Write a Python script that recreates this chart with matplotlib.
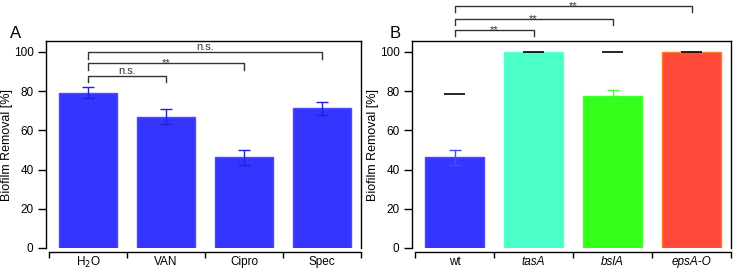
import matplotlib.pyplot as plt

plt.rcParams["font.family"] = ["Liberation Sans", "DejaVu Sans"]
plt.rcParams["font.size"] = 8

# Panel A: antibiotic treatments
labels_a = ["H$_2$O", "VAN", "Cipro", "Spec"]
values_a = [79.2, 67.0, 46.3, 71.3]
errors_a = [2.8, 3.7, 3.8, 3.3]
# (i, j, bracket height, label)
sig_a = [(0, 3, 99.8, "n.s."), (0, 2, 94.2, "**"), (0, 1, 87.8, "n.s.")]

# Panel B: mutants
labels_b = ["wt", "tasA", "bslA", "epsA-O"]
values_b = [46.3, 100.0, 77.7, 100.0]
errors_b = [3.9, 0.0, 3.0, 0.0]
ref_b = [78.3, 100.0, 100.0, 100.0]
sig_b = [(0, 3, 123.3, "**"), (0, 2, 116.8, "**"), (0, 1, 111.2, "**")]

BLUE = "#3535ff"
face_b = [BLUE, "#4affc8", "#33ff1a", "#ff4a3a"]
edge_b = ["#4848ff", "#5cffd0", "#44ff30", "#ff7a20"]


def style_axes(ax, labels, italic=False):
    ax.set_xlim(-0.54, 3.5)
    ax.set_ylim(0, 105.5)
    ax.spines["bottom"].set_position(("outward", 3))
    ax.spines["bottom"].set_bounds(-0.5, 3.5)
    for s in ax.spines.values():
        s.set_linewidth(1.0)
    ax.set_yticks([0, 20, 40, 60, 80, 100])
    ax.tick_params(axis="y", direction="out", length=6, width=1, pad=3,
                   labelsize=8.5)
    ax.set_xticks([-0.5, 0.5, 1.5, 2.5, 3.5])
    ax.set_xticklabels([])
    ax.tick_params(axis="x", direction="out", length=4, width=1)
    for i, lab in enumerate(labels):
        ax.text(i, -8.9, lab, ha="center", va="baseline", fontsize=8.5,
                style="italic" if (italic and i > 0) else "normal",
                clip_on=False)
    ax.set_ylabel("Biofilm Removal [%]", fontsize=9)
    ax.yaxis.set_label_coords(-0.104, 0.5)


def brackets(ax, sigs, drop):
    for i, j, h, txt in sigs:
        ax.plot([i, i, j, j], [h - drop, h, h, h - drop], color="#333333",
                lw=1.0, clip_on=False)
        off = -1.5 if txt == "**" else 0.9
        ax.text((i + j) / 2, h + off, txt, ha="center", va="baseline",
                fontsize=8, color="#333333", clip_on=False)


fig = plt.figure(figsize=(7.38, 2.70), dpi=100)
ax_a = fig.add_axes([0.0623, 0.0815, 0.4267, 0.7665])
ax_b = fig.add_axes([0.5583, 0.0815, 0.4322, 0.7665])

# A
x = range(len(labels_a))
ax_a.bar(x, values_a, width=0.74, color=BLUE, edgecolor="#4a4aff", linewidth=1)
ax_a.errorbar(x, values_a, yerr=errors_a, fmt="none", ecolor="#2020e0",
              elinewidth=1, capsize=4, capthick=1)
style_axes(ax_a, labels_a)
brackets(ax_a, sig_a, 3.4)
fig.text(0.014, 0.86, "A", fontsize=12)

# B
x = range(len(labels_b))
ax_b.bar(x, values_b, width=0.74, color=face_b, edgecolor=edge_b, linewidth=1)
for i in x:
    if errors_b[i] > 0:
        ax_b.errorbar(i, values_b[i], yerr=errors_b[i], fmt="none",
                      ecolor=edge_b[i], elinewidth=1, capsize=4, capthick=1)
ax_b.hlines(ref_b, [i - 0.13 for i in x], [i + 0.13 for i in x],
            color="black", lw=1.2)
style_axes(ax_b, labels_b, italic=True)
brackets(ax_b, sig_b, 3.0)
fig.text(0.528, 0.86, "B", fontsize=12)

fig.savefig("out.png", dpi=100)
